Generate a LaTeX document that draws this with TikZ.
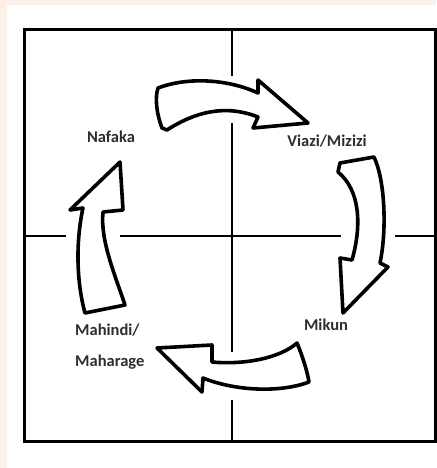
\documentclass[tikz,border=0pt]{standalone}
\usepackage{fontspec}
\setmainfont{Carlito}
\usetikzlibrary{positioning}

\definecolor{peach}{RGB}{251,241,233}

\begin{document}
\begin{tikzpicture}[
    x=1pt, y=-1pt,
    blockarrow/.style={draw=black, fill=white, line width=3.6pt, line join=round, line cap=round},
    gridline/.style={line width=1.4pt, black},
    cropname/.style={font=\fontsize{16.5}{31}\selectfont\bfseries, text=black!82, inner sep=0pt}
]
    % Page and frame
    \fill[peach] (0,0) rectangle (436,468);
    \fill[white] (7,5) rectangle (436,468);
    \useasboundingbox (0,0) rectangle (436,468);
    \draw[line width=3pt] (24,29.5) rectangle (435,441.5);

    % Cross lines (broken where the arrows pass)
    \draw[gridline] (232,29.5) -- (232,76);
    \draw[gridline] (232,123) -- (232,352);
    \draw[gridline] (232,400) -- (232,441.5);
    \draw[gridline] (24,236) -- (66,236);
    \draw[gridline] (120,236) -- (341,236);
    \draw[gridline] (395,236) -- (435,236);

    % Top arrow
    \draw[blockarrow] (158,88) .. controls (190,76) and (230,80) .. (258,93)
        -- (258,80) -- (308,123) -- (253,128) -- (258,117)
        .. controls (225,104) and (195,112) .. (167,130)
        -- (162,128) .. controls (156,112) and (155,97) .. (158,88) -- cycle;

    % Right arrow
    \draw[blockarrow] (340,163) -- (374,157)
        .. controls (385,180) and (387,230) .. (380,263)
        -- (388,267) -- (343,313) -- (340,258) -- (352,260)
        .. controls (362,225) and (360,190) .. (338,172) -- cycle;

    % Bottom arrow
    \draw[blockarrow] (297,343) .. controls (302,355) and (307,370) .. (309,382)
        .. controls (280,393) and (235,391) .. (203,378)
        -- (202,392) -- (157,348) -- (212,345) -- (212,362)
        .. controls (245,365) and (280,358) .. (297,343) -- cycle;

    % Left arrow
    \draw[blockarrow] (120,162) -- (70,210) -- (83,208)
        .. controls (76,240) and (76,280) .. (85,313)
        -- (125,305) .. controls (115,275) and (100,240) .. (103,212)
        -- (123,210) -- cycle;

    % Labels
    \node[cropname] (nafaka) at (111,137) {Nafaka};
    \node[cropname] (viazi) at (327,141) {Viazi/Mizizi};
    \node[cropname] (mikun) at (326,325) {Mikun};
    \node[cropname, align=left, anchor=west] (mahindi) at (75,347) {Mahindi/\\Maharage};
\end{tikzpicture}
\end{document}
